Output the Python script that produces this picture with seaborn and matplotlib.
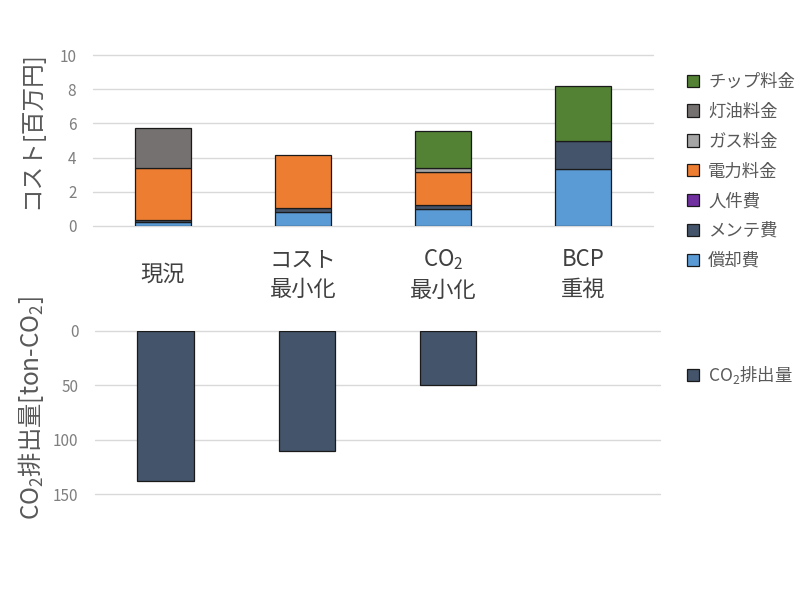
import numpy as np
import pandas as pd
import matplotlib
matplotlib.use('Agg')
import matplotlib.pyplot as plt
import seaborn as sns
from matplotlib.patches import Patch

# ---- data ----
categories = ['現況', 'コスト\n最小化', 'CO$_2$\n最小化', 'BCP\n重視']
depreciation = [0.25, 0.84, 0.97, 3.31]   # 償却費
maintenance = [0.10, 0.22, 0.25, 1.68]    # メンテ費
labor = [0.0, 0.0, 0.0, 0.0]              # 人件費
electricity = [3.02, 3.09, 1.96, 0.0]     # 電力料金
gas = [0.0, 0.0, 0.22, 0.0]               # ガス料金
kerosene = [2.38, 0.0, 0.0, 0.0]          # 灯油料金
chip = [0.0, 0.0, 2.17, 3.21]             # チップ料金
co2_emissions = [137.5, 110.0, 49.5, 0.0]

series_names = ['償却費', 'メンテ費', '人件費', '電力料金', 'ガス料金', '灯油料金', 'チップ料金']
series_values = [depreciation, maintenance, labor, electricity, gas, kerosene, chip]
series_colors = ['#5B9BD5', '#44546A', '#7030A0', '#ED7D31', '#A5A5A5', '#767171', '#548235']
co2_color = '#44546A'
cost_ticks = [0, 2, 4, 6, 8, 10]
co2_ticks = [0, 50, 100, 150]

# ---- style ----
sns.set_style('white')
plt.rcParams['font.family'] = ['Noto Sans CJK JP', 'DejaVu Sans']
plt.rcParams['mathtext.fontset'] = 'custom'
plt.rcParams['mathtext.rm'] = 'Noto Sans CJK JP'
plt.rcParams['mathtext.it'] = 'Noto Sans CJK JP'
plt.rcParams['mathtext.bf'] = 'Noto Sans CJK JP'
plt.rcParams['mathtext.default'] = 'regular'

edge = '#1a1a1a'
grid_c = '#D9D9D9'

fig = plt.figure(figsize=(7.97, 6.04), dpi=100)
ax1 = fig.add_axes([93/797, 1-226/604, 560/797, 171/604])
ax2 = fig.add_axes([95/797, 1-494.3/604, 565/797, 163.6/604])

# ---- top: stacked cost bars ----
bottom = np.zeros(len(categories))
for name, vals, col in zip(series_names, series_values, series_colors):
    vals = np.asarray(vals, dtype=float)
    ecs = [edge if v > 0 else 'none' for v in vals]
    sns.barplot(x=categories, y=vals, bottom=bottom.copy(), color=col,
                saturation=1, width=0.4, edgecolor=ecs, linewidth=0.9, ax=ax1)
    bottom += vals

ax1.set_ylim(0, 10)
ax1.set_xlim(-0.5, 3.5)
ax1.set_yticks(cost_ticks)
ax1.yaxis.grid(True, color=grid_c, lw=1)
ax1.set_axisbelow(True)
for s in ax1.spines.values():
    s.set_visible(False)
ax1.set_xlabel('')
ax1.set_ylabel('')
ax1.tick_params(axis='y', length=0, labelsize=11, labelcolor='#7F7F7F', pad=12)
ax1.tick_params(axis='x', length=0, labelsize=16, labelcolor='#404040', pad=35)
for lbl in ax1.get_xticklabels():
    lbl.set_va('center')
    lbl.set_linespacing(1.35)
for gl in ax1.get_ygridlines():
    gl.set_clip_on(False)

# ---- bottom: CO2 emissions ----
co2_vals = np.asarray(co2_emissions, dtype=float)
sns.barplot(x=categories, y=co2_vals, color=co2_color, saturation=1, width=0.4,
            edgecolor=[edge if v > 0 else 'none' for v in co2_vals], linewidth=0.9, ax=ax2)
ax2.set_ylim(150, 0)
ax2.set_xlim(-0.5, 3.5)
ax2.set_yticks(co2_ticks)
ax2.yaxis.grid(True, color=grid_c, lw=1)
ax2.set_axisbelow(True)
for s in ax2.spines.values():
    s.set_visible(False)
ax2.set_xlabel('')
ax2.set_ylabel('')
ax2.tick_params(axis='y', length=0, labelsize=11, labelcolor='#7F7F7F', pad=12)
ax2.tick_params(axis='x', length=0, labelbottom=False)
for gl in ax2.get_ygridlines():
    gl.set_clip_on(False)

# ---- axis titles ----
fig.text(31/797, 1-130/604, 'コスト[百万円]', rotation=90, ha='center', va='center',
         fontsize=17, color='#595959')
fig.text(31/797, 1-408/604, 'CO$_2$排出量[ton-CO$_2$]', rotation=90, ha='center', va='center',
         fontsize=17.5, color='#595959')

# ---- legends ----
handles = [Patch(facecolor=c, edgecolor=edge, lw=0.9) for c in series_colors][::-1]
fig.legend(handles=handles, labels=series_names[::-1], loc='upper left',
           bbox_to_anchor=(680/797, 1-66/604), frameon=False, fontsize=12.5,
           handlelength=0.72, handleheight=0.72, handletextpad=0.5,
           labelspacing=0.68, labelcolor='#595959', borderaxespad=0)
fig.legend(handles=[Patch(facecolor=co2_color, edgecolor=edge, lw=0.9)],
           labels=['CO$_2$排出量'], loc='upper left',
           bbox_to_anchor=(680/797, 1-357/604), frameon=False, fontsize=12.5,
           handlelength=0.72, handleheight=0.72, handletextpad=0.5,
           labelcolor='#595959', borderaxespad=0)

fig.savefig('out.png', dpi=100)
